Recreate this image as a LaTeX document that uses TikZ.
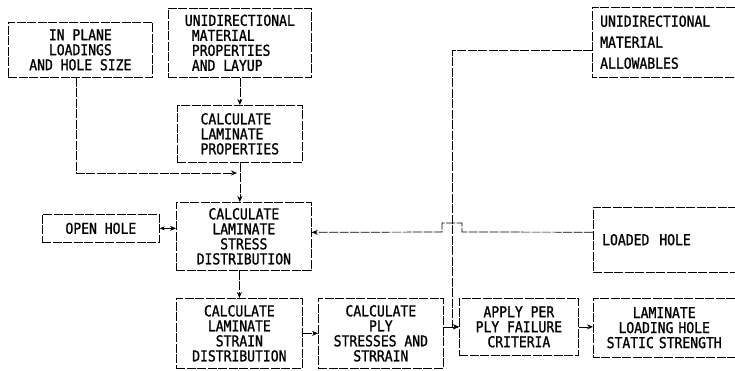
\documentclass[tikz,border=0pt]{standalone}
\usepackage{fontspec}
\newfontfamily\boxfont[FakeStretch=0.87,FakeBold=1.2]{DejaVu Sans Mono}
\usetikzlibrary{arrows.meta}
\begin{document}
\begin{tikzpicture}[x=1pt,y=-1pt,
  ln/.style={line width=0.7pt, dash pattern=on 9pt off 1.5pt},
  bx/.style={ln, draw, inner sep=0pt, anchor=north west, align=center,
    font=\boxfont\fontsize{15}{15}\selectfont},
  ob/.style={inner sep=0pt, anchor=north west,
    font=\boxfont\fontsize{15}{15}\selectfont},
  arr/.style={ln, -{Stealth[length=6pt,width=5pt]}},
  darr/.style={ln, {Stealth[length=5pt,width=4pt]}-{Stealth[length=6pt,width=5pt]}}]
\useasboundingbox (0,0) rectangle (735,370);

\node[bx, minimum width=144pt, minimum height=55pt] (inplane) at (8,22)
  {IN PLANE\\LOADINGS\\AND HOLE SIZE};
\node[bx, minimum width=143pt, minimum height=69pt, align=left] (udprop) at (168,8)
  {UNIDIRECTIONAL\\\hspace*{7pt}MATERIAL\\\hspace*{7pt}PROPERTIES\\\hspace*{7pt}AND LAYUP};
\node[bx, minimum width=125pt, minimum height=57pt, align=left] (calcprops) at (177,105)
  {CALCULATE\\LAMINATE\\PROPERTIES};
\node[bx, minimum width=135pt, minimum height=68pt] (stress) at (176,202)
  {CALCULATE\\LAMINATE\\STRESS\\DISTRIBUTION};
\node[bx, minimum width=117pt, minimum height=28pt] (openhole) at (42,214)
  {OPEN HOLE};
\node[bx, minimum width=126pt, minimum height=70pt] (strain) at (176,298)
  {CALCULATE\\LAMINATE\\STRAIN\\DISTRIBUTION};
\node[bx, minimum width=125pt, minimum height=70pt] (plystress) at (318,298)
  {CALCULATE\\PLY\\STRESSES AND\\STRRAIN};
\node[bx, minimum width=119pt, minimum height=57pt] (failure) at (459,298)
  {APPLY PER\\PLY FAILURE\\CRITERIA};

% boxes cut by the right edge
\node[ob, minimum height=70pt, text width=127pt, inner xsep=8pt, align=left] (allow) at (592,7)
  {UNIDIRECTIONAL\\[6pt]MATERIAL\\[6pt]ALLOWABLES};
\node[ob, minimum height=65pt, text width=126pt, inner xsep=9pt, align=left] (loaded) at (593,207)
  {\raisebox{-3pt}{LOADED\ \ HOLE}};
\node[ob, minimum height=59pt, text width=142pt, align=center] (lamstr) at (593,298)
  {LAMINATE\\LOADING HOLE\\STATIC STRENGTH};
\draw[ln] (allow.north east) -| (allow.south west) -- (allow.south east);
\draw[ln] (loaded.north east) -| (loaded.south west) -- (loaded.south east);
\draw[ln] (lamstr.north east) -| (lamstr.south west) -- (lamstr.south east);

\coordinate (jin) at (237,173);
\coordinate (jx) at (452,0);

% connectors
\draw[arr] (udprop.south) -- (calcprops.north);
\draw[arr] (calcprops.south) -- (calcprops.south |- stress.north);
\draw[arr] ([xshift=-4pt]inplane.south) |- (jin);
\draw[darr] (openhole.east) -- (openhole.east -| stress.west);
\draw[arr] ([yshift=7.5pt]loaded.west) -- (462,232) -- (462,223) -- (442,223) -- (442,232)
  -- ([yshift=4pt]stress.east);
\draw[arr] ([yshift=-8pt]allow.west) -| (failure.west -| jx) -- (failure.west);
\draw[arr] (stress.south -| strain.north) -- (strain.north);
\draw[arr] (strain.east) -- (plystress.west);
\draw[arr] (failure.west -| plystress.east) -- (failure.west);
\draw[arr] (failure.east) -- (failure.east -| lamstr.west);
\end{tikzpicture}
\end{document}
